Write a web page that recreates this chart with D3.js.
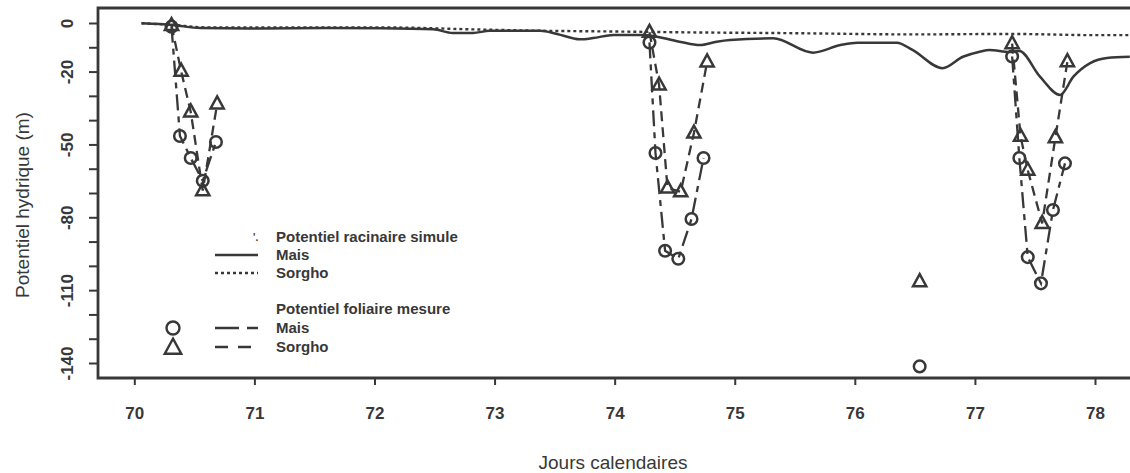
<!DOCTYPE html>
<html>
<head>
<meta charset="utf-8">
<script src="https://cdn.jsdelivr.net/npm/d3@7"></script>
<style>
  body { margin: 0; background: #fff; }
  svg { display: block; font-family: "Liberation Sans", Arial, sans-serif; }
</style>
</head>
<body>
<div class="chart"></div>
<script>
'use strict';

// simulated root potential (day, value in m)
const maisSimDays = [70.06, 70.32, 70.55, 71.05, 71.6, 72.05, 72.49, 72.65, 72.82, 72.96, 73.38, 73.52, 73.71, 73.82, 73.99,
  74.24, 74.54, 74.71, 74.85, 74.96, 75.32, 75.65, 75.88, 76.02, 76.35, 76.48, 76.73, 76.9,
  77.04, 77.12, 77.29, 77.37, 77.54, 77.71, 77.82, 77.96, 78.1, 78.29];
const maisSim = [-0.1, -0.8, -2.1, -2.3, -2.1, -2.2, -2.6, -4.1, -4.1, -3.2, -3.2, -4.5, -6.7, -6.2, -4.9,
  -4.9, -7.7, -9.1, -7.7, -7.0, -6.3, -12.2, -9.1, -8.1, -8.1, -11.1, -18.6, -13.9,
  -11.8, -11.1, -11.9, -11.5, -22, -29.6, -22.1, -16.5, -14.4, -13.9];
const sorghoSimDays = [70.06, 70.32, 70.6, 71.5, 72.05, 72.8, 73.4, 74.0, 74.5, 75.5, 76.5, 77.3, 78.0, 78.29];
const sorghoSim = [-0.1, -0.8, -1.8, -1.8, -1.8, -2.6, -3.2, -3.5, -3.8, -4.2, -4.7, -4.5, -5.0, -5.0];

// measured leaf potential, one array per drying cycle
const maisLeafDays = [
  [70.31, 70.38, 70.47, 70.57, 70.68],
  [74.29, 74.34, 74.42, 74.53, 74.64, 74.74],
  [77.31, 77.37, 77.44, 77.55, 77.65, 77.75]
];
const maisLeaf = [
  [-1.5, -46.5, -55.6, -65, -49],
  [-8, -53.5, -93.8, -97.1, -80.7, -55.6],
  [-13.8, -55.6, -96.4, -107.2, -77, -57.8]
];
const sorghoLeafDays = [
  [70.31, 70.39, 70.47, 70.57, 70.69],
  [74.29, 74.37, 74.44, 74.55, 74.66, 74.77],
  [77.31, 77.38, 77.44, 77.56, 77.67, 77.77]
];
const sorghoLeaf = [
  [-1.0, -19.8, -36.6, -69, -33.3],
  [-3.8, -25.5, -67.9, -69.5, -45.3, -16],
  [-8.5, -46.6, -60.6, -82.5, -47.2, -15.9]
];
// single unconnected measurements
const maisSingle = [[76.54, -141.4]];
const sorghoSingle = [[76.54, -106.5]];

const xTicks = [70, 71, 72, 73, 74, 75, 76, 77, 78];
const yTicks = [0, -10, -20, -30, -40, -50, -60, -70, -80, -90, -100, -110, -120, -130, -140];
const yLabels = [0, -20, -50, -80, -110, -140];

document.addEventListener('DOMContentLoaded', () => {

  const W = 1130, H = 473;
  const frame = {left: 98, top: 8, right: 1130, bottom: 378};
  const ink = "#383838";

  const svg = d3.select(".chart")
    .append("svg")
    .attr("width", W)
    .attr("height", H);

  const x = d3.scaleLinear().domain([70, 78]).range([134.3, 1095]);
  const y = d3.scaleLinear().domain([0, -140]).range([23, 363]);

  // axes
  const xAxis = d3.axisBottom(x).tickValues(xTicks).tickSize(7).tickPadding(22);
  const gx = svg.append("g")
    .attr("transform", `translate(0,${frame.bottom})`)
    .call(xAxis);
  gx.select(".domain").remove();
  gx.selectAll("line").attr("stroke", ink).attr("stroke-width", 2);
  gx.selectAll("text")
    .attr("fill", ink)
    .style("font-size", "17px")
    .style("font-weight", "bold");

  const yAxis = d3.axisLeft(y).tickValues(yTicks).tickSize(9)
    .tickFormat(d => yLabels.includes(d) ? d : "");
  const gy = svg.append("g")
    .attr("transform", `translate(${frame.left},0)`)
    .call(yAxis);
  gy.select(".domain").remove();
  gy.selectAll("line").attr("stroke", ink).attr("stroke-width", 2);
  gy.selectAll("text")
    .attr("fill", ink)
    .attr("transform", "rotate(-90)")
    .attr("x", 0)
    .attr("y", -31)
    .attr("dy", "0.35em")
    .attr("text-anchor", "middle")
    .style("font-size", "17px")
    .style("font-weight", "bold");

  // frame (open on the right)
  svg.append("path")
    .attr("d", `M${frame.right},${frame.top}H${frame.left}V${frame.bottom}H${frame.right}`)
    .attr("fill", "none")
    .attr("stroke", ink)
    .attr("stroke-width", 2.8);

  // axis titles
  svg.append("text")
    .attr("transform", "translate(22,205) rotate(-90)")
    .attr("text-anchor", "middle")
    .attr("dy", "0.35em")
    .attr("fill", ink)
    .style("font-size", "19px")
    .text("Potentiel hydrique (m)");
  svg.append("text")
    .attr("x", 613)
    .attr("y", 469)
    .attr("text-anchor", "middle")
    .attr("fill", ink)
    .style("font-size", "19px")
    .text("Jours calendaires");

  // simulated lines
  const line = d3.line()
    .x(d => x(d[0]))
    .y(d => y(d[1]))
    .curve(d3.curveMonotoneX);
  const plot = svg.append("g");

  plot.append("path")
    .datum(sorghoSimDays.map((d, i) => [d, sorghoSim[i]]))
    .attr("d", line)
    .attr("fill", "none")
    .attr("stroke", ink)
    .attr("stroke-width", 2.4)
    .attr("stroke-dasharray", "3,3");
  plot.append("path")
    .datum(maisSimDays.map((d, i) => [d, maisSim[i]]))
    .attr("d", line)
    .attr("fill", "none")
    .attr("stroke", ink)
    .attr("stroke-width", 2.5);

  // measured leaf potential
  const straight = d3.line().x(d => x(d[0])).y(d => y(d[1]));
  const maisPts = maisLeafDays.map((ds, k) => ds.map((d, i) => [d, maisLeaf[k][i]]));
  const sorghoPts = sorghoLeafDays.map((ds, k) => ds.map((d, i) => [d, sorghoLeaf[k][i]]));

  plot.selectAll(".mais-leaf")
    .data(maisPts)
    .enter()
    .append("path")
    .attr("class", "mais-leaf")
    .attr("d", straight)
    .attr("fill", "none")
    .attr("stroke", ink)
    .attr("stroke-width", 2.3)
    .attr("stroke-dasharray", "16,6,6,6");
  plot.selectAll(".sorgho-leaf")
    .data(sorghoPts)
    .enter()
    .append("path")
    .attr("class", "sorgho-leaf")
    .attr("d", straight)
    .attr("fill", "none")
    .attr("stroke", ink)
    .attr("stroke-width", 2.3)
    .attr("stroke-dasharray", "10,6");

  const tri = s => `M0,${-s * 0.62}L${s * 0.55},${s * 0.38}L${-s * 0.55},${s * 0.38}Z`;

  plot.selectAll(".circ")
    .data(maisPts.flat().concat(maisSingle))
    .enter()
    .append("circle")
    .attr("class", "circ")
    .attr("cx", d => x(d[0]))
    .attr("cy", d => y(d[1]))
    .attr("r", 5.8)
    .attr("fill", "none")
    .attr("stroke", ink)
    .attr("stroke-width", 2.5);
  plot.selectAll(".tri")
    .data(sorghoPts.flat().concat(sorghoSingle))
    .enter()
    .append("path")
    .attr("class", "tri")
    .attr("transform", d => `translate(${x(d[0])},${y(d[1])})`)
    .attr("d", tri(12))
    .attr("fill", "none")
    .attr("stroke", ink)
    .attr("stroke-width", 2.5);

  // legend
  const leg = svg.append("g")
    .style("font-size", "15px")
    .style("font-weight", "bold")
    .attr("fill", ink);
  const items = [
    {y: 237, text: "Potentiel racinaire simule"},
    {y: 255, text: "Mais", dash: null},
    {y: 273, text: "Sorgho", dash: "3,3"},
    {y: 309, text: "Potentiel foliaire mesure"},
    {y: 328, text: "Mais", dash: "24,8,8,0", mark: "circle"},
    {y: 347, text: "Sorgho", dash: "13,10", mark: "tri"}
  ];
  leg.append("text")
    .attr("x", 253)
    .attr("y", 237)
    .attr("dy", "0.35em")
    .style("font-size", "10px")
    .text("'.");
  items.forEach(it => {
    leg.append("text")
      .attr("x", 276)
      .attr("y", it.y)
      .attr("dy", "0.35em")
      .text(it.text);
    if (it.dash !== undefined) {
      leg.append("line")
        .attr("x1", 215).attr("x2", 258)
        .attr("y1", it.y).attr("y2", it.y)
        .attr("stroke", ink)
        .attr("stroke-width", 2.4)
        .attr("stroke-dasharray", it.dash);
    }
    if (it.mark === "circle") {
      leg.append("circle")
        .attr("cx", 173).attr("cy", it.y)
        .attr("r", 6.5)
        .attr("fill", "none")
        .attr("stroke", ink)
        .attr("stroke-width", 2.4);
    }
    if (it.mark === "tri") {
      leg.append("path")
        .attr("transform", `translate(173,${it.y + 1})`)
        .attr("d", tri(15))
        .attr("fill", "none")
        .attr("stroke", ink)
        .attr("stroke-width", 2.4);
    }
  });
});
</script>
</body>
</html>
